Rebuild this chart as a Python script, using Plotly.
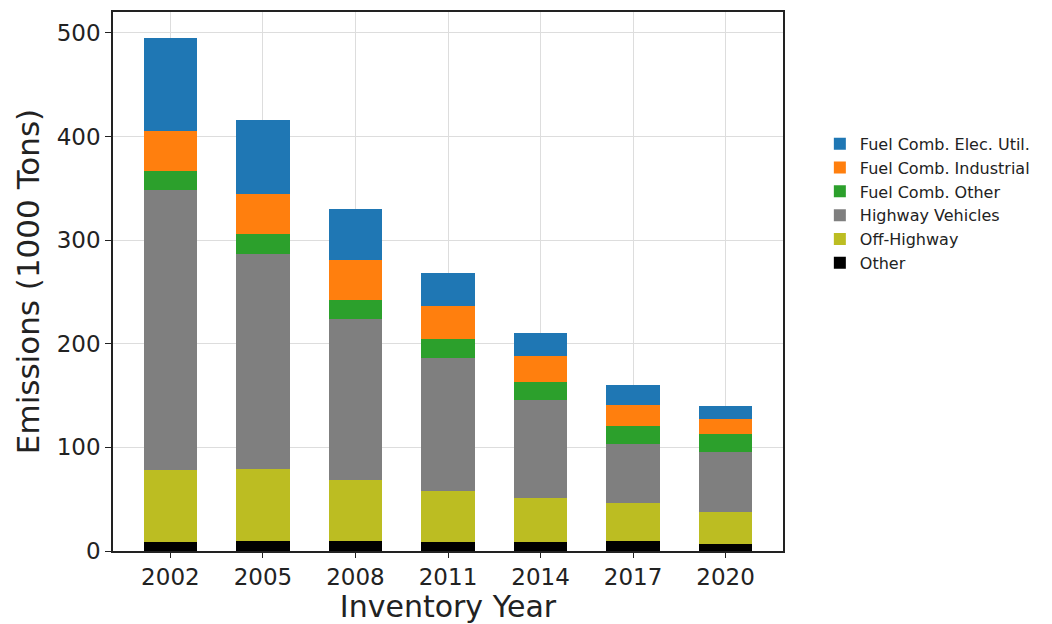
import plotly.graph_objects as go

years = ["2002", "2005", "2008", "2011", "2014", "2017", "2020"]

other = [8.6, 9.6, 9.6, 8.6, 8.6, 9.6, 6.4]
off_highway = [69.9, 69.8, 58.8, 49.0, 42.8, 36.6, 31.5]
highway_vehicles = [269.6, 206.9, 155.2, 129.0, 94.0, 57.4, 57.3]
fuel_comb_other = [18.6, 19.3, 18.3, 17.8, 17.9, 16.7, 17.6]
fuel_comb_industrial = [38.3, 39.3, 38.9, 32.5, 24.8, 20.8, 14.9]
fuel_comb_elec_util = [90.0, 71.4, 49.6, 31.7, 22.6, 19.4, 12.2]

series = [
    ("Other", other, "#000000"),
    ("Off-Highway", off_highway, "#bcbd22"),
    ("Highway Vehicles", highway_vehicles, "#7f7f7f"),
    ("Fuel Comb. Other", fuel_comb_other, "#2ca02c"),
    ("Fuel Comb. Industrial", fuel_comb_industrial, "#ff7f0e"),
    ("Fuel Comb. Elec. Util.", fuel_comb_elec_util, "#1f77b4"),
]

fig = go.Figure()
for name, vals, color in series:
    fig.add_trace(go.Bar(
        x=years, y=vals, name=name,
        marker=dict(color=color, line=dict(width=0)),
        width=0.58,
    ))

font_family = "DejaVu Sans"
fig.update_layout(
    width=1044, height=616,
    barmode="stack",
    paper_bgcolor="white",
    plot_bgcolor="white",
    font=dict(family=font_family, color="#222222"),
    margin=dict(l=105, r=269, t=4, b=73, autoexpand=False),
    legend=dict(
        traceorder="reversed",
        x=1.055, xanchor="left",
        y=0.645, yanchor="middle",
        font=dict(size=16, family=font_family, color="#222222"),
        bgcolor="rgba(0,0,0,0)",
        tracegroupgap=0,
    ),
    xaxis=dict(
        type="category",
        range=[-0.62, 6.62],
        showgrid=True, gridcolor="#dddddd", gridwidth=1,
        showline=True, linecolor="#222222", linewidth=1.5, mirror=True,
        ticks="outside", ticklen=5, tickcolor="#222222",
        tickfont=dict(size=23),
        title=dict(text="Inventory Year", font=dict(size=30), standoff=4),
        zeroline=False,
    ),
    yaxis=dict(
        range=[0, 520.2],
        tickvals=[0, 100, 200, 300, 400, 500],
        showgrid=True, gridcolor="#dddddd", gridwidth=1,
        showline=True, linecolor="#222222", linewidth=1.5, mirror=True,
        ticks="outside", ticklen=6, tickcolor="#222222",
        tickfont=dict(size=23),
        title=dict(text="Emissions (1000 Tons)", font=dict(size=31), standoff=8),
        zeroline=False,
    ),
)

fig.write_html("out.html")
